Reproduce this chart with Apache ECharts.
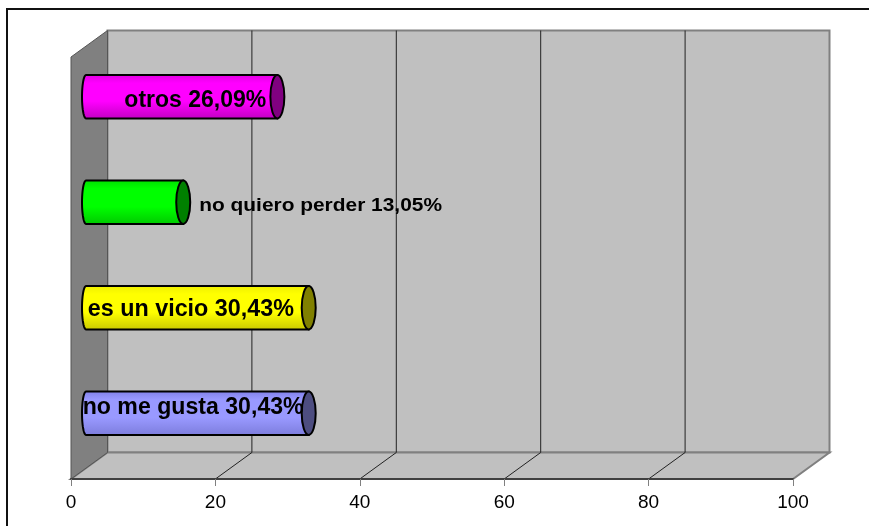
<!DOCTYPE html>
<html>
<head>
<meta charset="utf-8">
<style>
html,body{margin:0;padding:0;background:#fff}
#frame{position:absolute;left:6px;top:8px;right:0;bottom:0;border-left:2px solid #111;border-top:2px solid #111}
#chart{position:absolute;left:0;top:0;width:869px;height:526px}
</style>
<script src="https://cdn.jsdelivr.net/npm/echarts@6/dist/echarts.min.js"></script>
</head>
<body>
<div id="frame"></div>
<div id="chart"></div>
<script>
// Survey answers, bottom bar first
const categories = ['no me gusta', 'es un vicio', 'no quiero perder', 'otros'];
const values = [30.43, 30.43, 13.05, 26.09];
const labels = ['no me gusta 30,43%', 'es un vicio 30,43%', 'no quiero perder 13,05%', 'otros 26,09%'];
const xTicks = [0, 20, 40, 60, 80, 100];

// Cylinder shading: highlight edge, main tone, lower tone, end cap
const edgeColors = ['#8080e8', '#eeee00', '#00e000', '#e000e0'];
const mainColors = ['#9999ff', '#ffff00', '#00ff00', '#ff00ff'];
const lowColors = ['#7c7cdc', '#c8c800', '#00c800', '#c000c0'];
const capColors = ['#4d4d80', '#808000', '#008000', '#800080'];

// Label placement relative to the end of each cylinder
const labelOffsetX = [-233, -228, 9, -160];
const labelOffsetY = [-6, 2, 4, 4];
const labelSizes = [23, 23, 19, 23];
const labelStretch = [1.005, 1.015, 1.1, 1];

// Oblique projection of the chart box
const depthX = 36.5;
const depthY = -26.5;
const barPlaneX = 18;
const barPlaneY = -13;
const capRadius = 7;
const startRadius = 4;
const startInset = 3;
const barRatio = 0.41;

const chart = echarts.init(document.getElementById('chart'));

function renderWalls(params, api) {
  const c = params.coordSys;
  const l = c.x, r = c.x + c.width, t = c.y, b = c.y + c.height;
  const border = { stroke: '#808080', lineWidth: 2 };
  return {
    type: 'group',
    children: [
      { type: 'polygon', shape: { points: [[l + depthX, t + depthY], [r + depthX, t + depthY], [r + depthX, b + depthY], [l + depthX, b + depthY]] }, style: { fill: '#c0c0c0', ...border } },
      { type: 'polygon', shape: { points: [[l, b], [r, b], [r + depthX, b + depthY], [l + depthX, b + depthY]] }, style: { fill: '#c0c0c0', ...border } },
      { type: 'polygon', shape: { points: [[l, t], [l + depthX, t + depthY], [l + depthX, b + depthY], [l, b]] }, style: { fill: '#808080', stroke: '#555', lineWidth: 1 } }
    ]
  };
}

function renderGridLine(params, api) {
  const c = params.coordSys;
  const x = api.coord([api.value(0), 0])[0];
  const b = c.y + c.height;
  const line = { stroke: '#222', lineWidth: 1 };
  return {
    type: 'group',
    children: [
      { type: 'line', shape: { x1: x, y1: b, x2: x + depthX, y2: b + depthY }, style: line },
      { type: 'line', shape: { x1: x + depthX, y1: c.y + depthY, x2: x + depthX, y2: b + depthY }, style: line }
    ]
  };
}

function renderBar(params, api) {
  const i = params.dataIndex;
  const end = api.coord([api.value(0), i]);
  const start = api.coord([0, i]);
  const h = api.size([0, 1])[1] * barRatio / 2;
  const x0 = start[0] + barPlaneX - startInset, x1 = end[0] + barPlaneX, y = end[1] + barPlaneY;
  const outline = [[x1, y - h], [x0, y - h]];
  for (let k = 1; k < 24; k++) {
    const a = Math.PI * k / 24;
    outline.push([x0 - startRadius * Math.sin(a), y - h * Math.cos(a)]);
  }
  outline.push([x0, y + h], [x1, y + h]);
  const fill = new echarts.graphic.LinearGradient(0, 0, 0, 1, [
    { offset: 0, color: edgeColors[i] },
    { offset: 0.2, color: mainColors[i] },
    { offset: 0.6, color: mainColors[i] },
    { offset: 1, color: lowColors[i] }
  ]);
  return {
    type: 'group',
    children: [
      { type: 'polygon', shape: { points: outline }, style: { fill: fill, stroke: '#000', lineWidth: 2 } },
      { type: 'ellipse', shape: { cx: x1, cy: y, rx: capRadius, ry: h }, style: { fill: capColors[i], stroke: '#000', lineWidth: 2 } },
      {
        type: 'text',
        x: x1 + capRadius + labelOffsetX[i],
        y: y + labelOffsetY[i],
        scaleX: labelStretch[i],
        style: {
          text: labels[i],
          fill: '#000',
          font: 'bold ' + labelSizes[i] + 'px "Liberation Sans", Arial, sans-serif',
          textAlign: 'left',
          textVerticalAlign: 'middle'
        }
      }
    ]
  };
}

chart.setOption({
  animation: false,
  backgroundColor: 'transparent',
  grid: { left: 71, top: 57, width: 722, height: 422 },
  xAxis: {
    type: 'value',
    min: 0,
    max: 100,
    interval: 20,
    z: 3,
    splitLine: { show: false },
    axisLine: { show: true, lineStyle: { color: '#404040', width: 2 } },
    axisTick: { show: true, length: 7, lineStyle: { color: '#808080', width: 1 } },
    axisLabel: { color: '#000', fontSize: 19, fontFamily: '"Liberation Sans", Arial, sans-serif', margin: 14 }
  },
  yAxis: { type: 'category', data: categories, show: false },
  series: [
    { type: 'custom', z: 1, coordinateSystem: 'cartesian2d', data: [[0]], renderItem: renderWalls, silent: true },
    { type: 'custom', z: 2, coordinateSystem: 'cartesian2d', data: xTicks.slice(1, -1).map(t => [t]), renderItem: renderGridLine, silent: true },
    { type: 'custom', z: 4, coordinateSystem: 'cartesian2d', data: values.map(v => [v]), encode: { x: 0 }, renderItem: renderBar, silent: true }
  ]
});
</script>
</body>
</html>
